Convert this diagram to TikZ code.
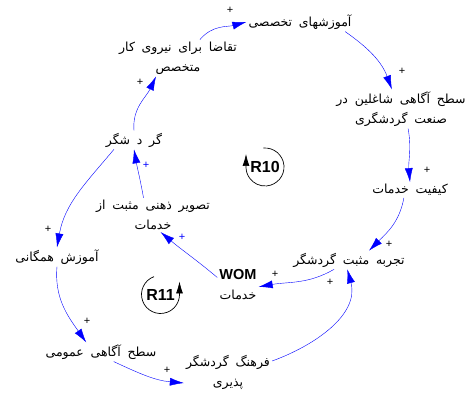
\documentclass[tikz,border=0pt]{standalone}
\usepackage{fontspec}
\setmainfont{Liberation Sans}
\newfontfamily\farsi[Script=Arabic,WordSpace=1.7]{DejaVu Sans}
\TeXXeTstate=1
\usetikzlibrary{arrows.meta}
\tikzset{
	>={Latex[length=14pt,width=8pt]}, ->, line width=1pt, % every link ends in a big filled head
	var/.style = {align=center, inner sep=2pt, font=\fontsize{12.5}{20}\selectfont}, % the variables of the loops
	link/.style = {blue},
	sign/.style = {inner sep=0pt, font=\fontsize{11}{11}\selectfont}, % polarity of a link
	loopname/.style = {inner sep=0pt, font=\bfseries\fontsize{16}{16}\selectfont}
}
\newcommand{\fa}[1]{{\farsi\beginR #1\endR}}

\begin{document}
\begin{tikzpicture}[x=1pt,y=1pt]
            \tikzset{my loop/.style = {black, line width=0.7pt, >={Latex[length=12pt,width=7pt]}}}
            \useasboundingbox (0,0) rectangle (467,394);
            \node[var] (1) at (300,372) {\fa{آموزشهای تخصصی}};
            \node[var] (2) at (178,336) {\fa{تقاضا برای نیروی کار}\\\fa{متخصص}};
            \node[var] (3) at (134,254) {\fa{گر د شگر}};
            \node[var] (4) at (401,285) {\fa{سطح آگاهی شاغلین در}\\\fa{صنعت گردشگری}};
            \node[var] (5) at (410,204) {\fa{کیفیت خدمات}};
            \node[var] (6) at (349,134) {\fa{تجربه مثبت گردشگر}};
            \node[var] (7) at (238,109) {{\bfseries\fontsize{14.5}{14.5}\selectfont WOM}\\\fa{خدمات}};
            \node[var] (8) at (153,179) {\fa{تصویر ذهنی مثبت از}\\\fa{خدمات}};
            \node[var] (9) at (57,137) {\fa{آموزش همگانی}};
            \node[var] (10) at (101,42) {\fa{سطح آگاهی عمومی}};
            \node[var] (11) at (228,22) {\fa{فرهنگ گردشگر}\\\fa{پذیری}};
            \draw[link] (2.40) to[out=50,in=195] (1.west);
            \draw[link] (1.-12) to[out=-35,in=110] (4.115);
            \draw[link] (4.-70) to[out=-80,in=95] (5.north);
            \draw[link] (5.-128) to[out=-100,in=45] (6.25);
            \draw[link] (6.-148) to[out=-150,in=10] (7.-5);
            \draw[link] (7.160) to[out=140,in=-40] (8.-66);
            \draw[link] (8.119) to[out=100,in=-80] (3.south);
            \draw[link] (3.north) to[out=95,in=-115] (2.-140);
            \draw[link] (3.-155) to[out=-130,in=80] (9.north);
            \draw[link] (9.south) to[out=-95,in=125] (10.147);
            \draw[link] (10.-37) to[out=-25,in=175] (11.-166);
            \draw[link] (11.14) to[out=20,in=-75] (6.-100);
            \node[sign] (s1) at (230,384) {+};
            \node[sign] (s2) at (402,323) {+};
            \node[sign] (s3) at (427,224) {+};
            \node[sign] (s4) at (389,150) {+};
            \node[sign] (s5) at (275,120) {+};
            \node[sign,blue] (s6) at (182,157) {+};
            \node[sign,blue] (s7) at (146,229) {+};
            \node[sign] (s8) at (140,312) {+};
            \node[sign] (s9) at (48,165) {+};
            \node[sign] (s10) at (87,73) {+};
            \node[sign] (s11) at (167,24) {+};
            \node[sign] (s12) at (330,112) {+};
            \node[loopname] (r10) at (265,227) {R10};
            \node[loopname] (r11) at (160.5,99.5) {R11};
            \draw[my loop] (r10.center) ++(95:19) arc[start angle=95,end angle=-180,radius=19] -- ++(0,13);
            \draw[my loop] (r11.center) ++(110:19) arc[start angle=110,end angle=360,radius=19] -- ++(0,13);
        \end{tikzpicture}
\end{document}
